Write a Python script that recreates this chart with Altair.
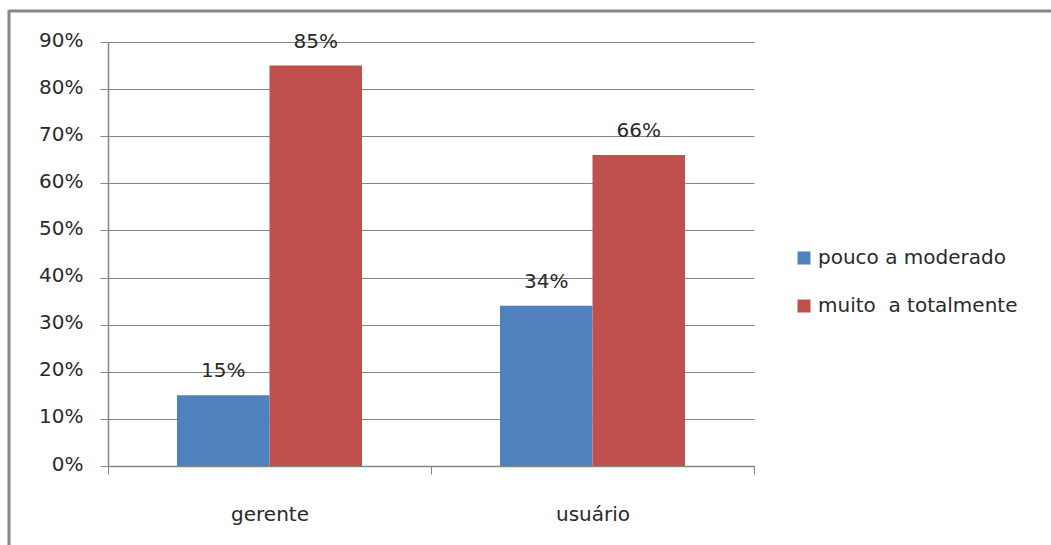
import altair as alt
import pandas as pd

categorias = ["gerente", "usuário"]
series = ["pouco a moderado", "muito\u00a0 a totalmente"]
pouco = [0.15, 0.34]
muito = [0.85, 0.66]
cores = ["#4F81BD", "#C0504D"]

rows = []
for i, c in enumerate(categorias):
    rows.append({"cat": c, "serie": series[0], "valor": pouco[i]})
    rows.append({"cat": c, "serie": series[1], "valor": muito[i]})
df = pd.DataFrame(rows)

FONT = "DejaVu Sans"
FS = 20
TXT = "#2a2a2a"
W, H = 646, 424

x = alt.X("cat:N", sort=categorias, title=None,
          scale=alt.Scale(paddingInner=0, paddingOuter=0),
          axis=alt.Axis(labelAngle=0, labelFontSize=FS, labelFont=FONT, labelColor=TXT,
                        labelPadding=30, tickBand="extent", tickSize=8, tickColor="#868686",
                        domainColor="#868686", domainWidth=1.5, grid=False))
xo = alt.XOffset("serie:N", sort=series, scale=alt.Scale(paddingInner=0, paddingOuter=0.746))
y = alt.Y("valor:Q", title=None,
          scale=alt.Scale(domain=[0, 0.9], nice=False),
          axis=alt.Axis(format=".0%", values=[i / 10 for i in range(10)], labelFontSize=FS,
                        labelFont=FONT, labelColor=TXT, labelPadding=17, tickSize=8,
                        labelBaseline="middle", labelOffset=-2,
                        tickColor="#868686", domainColor="#868686", domainWidth=1.5,
                        gridColor="#868686", gridWidth=1))

color = alt.Color("serie:N", sort=series, scale=alt.Scale(domain=series, range=cores),
                  legend=alt.Legend(title=None, orient="none", legendX=686, legendY=206,
                                    symbolType="square", symbolSize=169, symbolStrokeWidth=0,
                                    labelFontSize=FS, labelFont=FONT, labelColor=TXT,
                                    labelLimit=0, rowPadding=28, labelOffset=4))

bars = alt.Chart(df).mark_bar(opacity=1).encode(x=x, xOffset=xo, y=y, color=color)
labels = alt.Chart(df).mark_text(baseline="alphabetic", dy=-18, fontSize=FS, font=FONT,
                                 color=TXT).encode(
    x=x, xOffset=xo, y=y, text=alt.Text("valor:Q", format=".0%"))

border = alt.Chart(pd.DataFrame({"k": [0]})).mark_rule(color="#868686", strokeWidth=3, clip=False).encode(
    x=alt.value(-99), x2=alt.value(960), y=alt.value(-31))
border2 = alt.Chart(pd.DataFrame({"k": [0]})).mark_rule(color="#868686", strokeWidth=3, clip=False).encode(
    x=alt.value(-99), y=alt.value(-32), y2=alt.value(520))

chart = alt.layer(bars, labels, border, border2).properties(
    width=W, height=H,
    padding={"left": 108, "top": 42, "right": 297, "bottom": 79},
    autosize=alt.AutoSizeParams(type="none"),
    background="white",
).configure_view(stroke=None)

chart.save("out.html", embed_options={"renderer": "svg", "actions": False})
